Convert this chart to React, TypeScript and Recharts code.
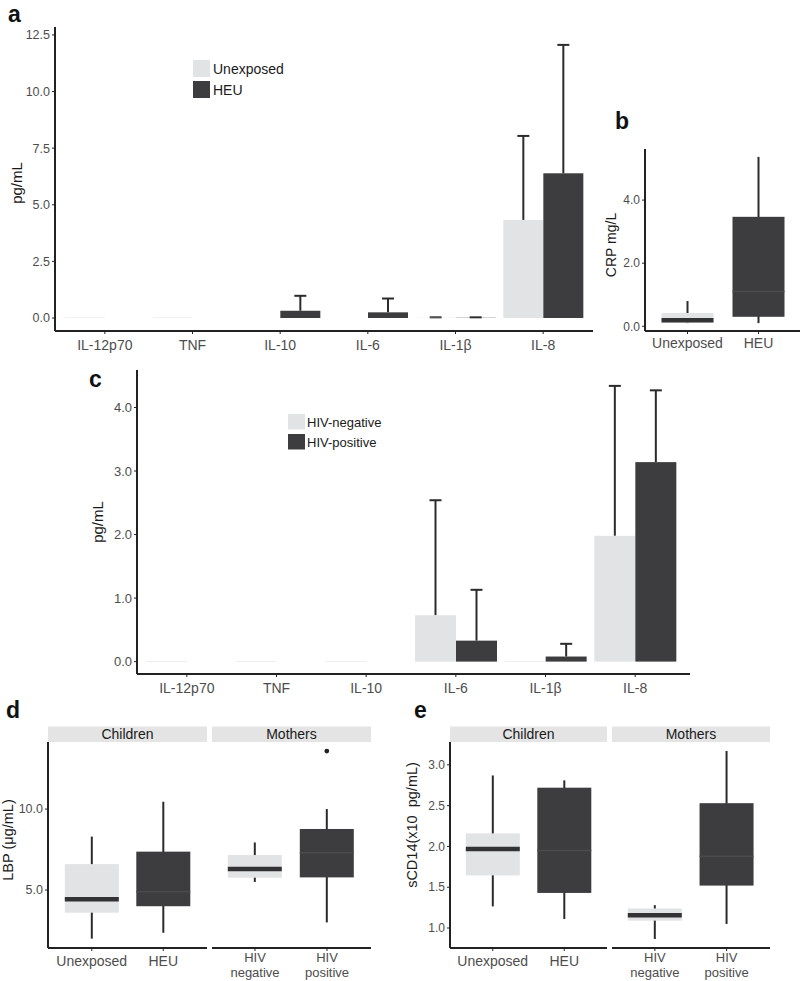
import React from 'react';
import { BarChart, Bar, XAxis, YAxis } from 'recharts';

const FONT = '"Liberation Sans", Arial, Helvetica, sans-serif';
const LIGHT = '#e2e3e5';
const DARK = '#3d3d3f';
const INK = '#222222';
const TICK = '#4d4d4d';

// panel a: cytokines in children
const cytokines = ['IL-12p70', 'TNF', 'IL-10', 'IL-6', 'IL-1β', 'IL-8'];
const unexposedMean = [0.02, 0.02, 0, 0, 0.01, 4.33];
const unexposedUpper = [null, null, null, null, 0.03, 8.04];
const heuMean = [0, 0, 0.32, 0.25, 0.01, 6.39];
const heuUpper = [null, null, 0.98, 0.86, 0.03, 12.06];
const ticksA = [0, 2.5, 5, 7.5, 10, 12.5];

// panel c: cytokines in mothers
const hivNegMean = [0.01, 0.01, 0.01, 0.73, 0.01, 1.98];
const hivNegUpper = [null, null, null, 2.54, null, 4.34];
const hivPosMean = [0, 0, 0, 0.33, 0.08, 3.14];
const hivPosUpper = [null, null, null, 1.13, 0.28, 4.27];
const ticksC = [0, 1, 2, 3, 4];

// panel b: CRP
const crpGroups = ['Unexposed', 'HEU'];
const crpMin = [0.1, 0.1];
const crpQ1 = [0.11, 0.3];
const crpMedian = [0.19, 1.1];
const crpQ3 = [0.42, 3.47];
const crpMax = [0.8, 5.37];
const ticksB = [0, 2, 4];

// panels d/e: facets
const childGroups = ['Unexposed', 'HEU'];
const motherGroups = ['HIV\nnegative', 'HIV\npositive'];
const tones = ['light', 'dark'];

const lbpChildMin = [2.0, 2.36];
const lbpChildQ1 = [3.6, 4.0];
const lbpChildMedian = [4.43, 4.9];
const lbpChildQ3 = [6.6, 7.37];
const lbpChildMax = [8.3, 10.45];
const lbpMotherMin = [5.5, 3.0];
const lbpMotherQ1 = [5.76, 5.78];
const lbpMotherMedian = [6.3, 7.3];
const lbpMotherQ3 = [7.16, 8.77];
const lbpMotherMax = [7.94, 10.0];
const lbpMotherOutliers = [[], [13.58]];
const ticksD = [5, 10];

const cd14ChildMin = [1.265, 1.11];
const cd14ChildQ1 = [1.645, 1.43];
const cd14ChildMedian = [1.97, 1.95];
const cd14ChildQ3 = [2.16, 2.72];
const cd14ChildMax = [2.87, 2.81];
const cd14MotherMin = [0.865, 1.05];
const cd14MotherQ1 = [1.09, 1.52];
const cd14MotherMedian = [1.155, 1.88];
const cd14MotherQ3 = [1.24, 2.53];
const cd14MotherMax = [1.28, 3.17];
const ticksE = [1, 1.5, 2, 2.5, 3];

const barRows = (m1: number[], u1: (number | null)[], m2: number[], u2: (number | null)[]) =>
  cytokines.map((name, i) => ({ name, m1: m1[i], u1: u1[i], m2: m2[i], u2: u2[i] }));

const boxRows = (
  names: string[],
  min: number[],
  q1: number[],
  med: number[],
  q3: number[],
  max: number[],
  out: number[][] = []
) =>
  names.map((name, i) => ({
    name,
    min: min[i],
    q1: q1[i],
    median: med[i],
    q3: q3[i],
    max: max[i],
    outliers: out[i] || [],
    tone: tones[i],
  }));

// bar + upper error whisker, scale taken from the bar itself
const errShape = (meanKey: string, upKey: string) => (props: any) => {
  const { x, y, width, height, fill, payload } = props;
  const v = payload[meanKey];
  const up = payload[upKey];
  if (!(v > 0)) return <g />;
  const base = y + height;
  const px = height / v;
  const cx = x + width / 2;
  const ty = up != null ? base - up * px : null;
  return (
    <g>
      {ty != null && (
        <g stroke="#2b2b2b" strokeWidth={2}>
          <line x1={cx} x2={cx} y1={ty} y2={y} />
          <line x1={cx - 6} x2={cx + 6} y1={ty} y2={ty} />
        </g>
      )}
      <rect x={x} y={y} width={width} height={height} fill={fill} />
    </g>
  );
};

const boxShape = (props: any) => {
  const { x, y, width, height, payload } = props;
  const px = height / (payload.max - payload.min);
  const yOf = (v: number) => y + (payload.max - v) * px;
  const cx = x + width / 2;
  const light = payload.tone === 'light';
  return (
    <g>
      <line x1={cx} x2={cx} y1={yOf(payload.max)} y2={yOf(payload.min)} stroke="#2b2b2b" strokeWidth={2} />
      <rect
        x={x}
        y={yOf(payload.q3)}
        width={width}
        height={yOf(payload.q1) - yOf(payload.q3)}
        fill={light ? LIGHT : DARK}
      />
      <line
        x1={x}
        x2={x + width}
        y1={yOf(payload.median)}
        y2={yOf(payload.median)}
        stroke={light ? '#333335' : '#4b4b4d'}
        strokeWidth={light ? 4.5 : 1.5}
      />
      {payload.outliers.map((o: number, i: number) => (
        <circle key={i} cx={cx} cy={yOf(o)} r={2.4} fill="#222" />
      ))}
    </g>
  );
};

const XTick = (p: any) => {
  const lines = String(p.payload.value).split('\n');
  return (
    <text x={p.x} y={p.y + p.labelDy} textAnchor="middle" fill={TICK} fontSize={p.labelSize} fontFamily={FONT}>
      {lines.map((l, i) => (
        <tspan key={i} x={p.x} dy={i === 0 ? 0 : 14.5}>
          {l}
        </tspan>
      ))}
    </text>
  );
};

const fmt1 = (v: number) => v.toFixed(1);

function CytokinePanel(props: any) {
  const { left, top, width, height, marginTop, yWidth, xHeight, domain, ticks, rows, pad, tickSize, labelDy } = props;
  return (
    <div style={{ position: 'absolute', left, top }}>
      <BarChart
        width={width}
        height={height}
        data={rows}
        margin={{ top: marginTop, right: 0, bottom: 0, left: 0 }}
        barGap={0}
        barCategoryGap={4}
      >
        <XAxis
          dataKey="name"
          height={xHeight}
          padding={pad}
          interval={0}
          tickSize={3}
          tickLine={{ stroke: INK }}
          axisLine={{ stroke: INK, strokeWidth: 2 }}
          tick={(p: any) => <XTick {...p} labelDy={labelDy} labelSize={14} />}
        />
        <YAxis
          width={yWidth}
          domain={domain}
          ticks={ticks}
          tickFormatter={fmt1}
          tickSize={3}
          tickLine={{ stroke: INK }}
          axisLine={{ stroke: INK, strokeWidth: 2 }}
          tick={{ fill: TICK, fontSize: tickSize, fontFamily: FONT }}
        />
        <Bar dataKey="m1" fill={LIGHT} shape={errShape('m1', 'u1')} isAnimationActive={false} />
        <Bar dataKey="m2" fill={DARK} shape={errShape('m2', 'u2')} isAnimationActive={false} />
      </BarChart>
    </div>
  );
}

function BoxFacet(props: any) {
  const { left, top, width, height, marginTop, yWidth, showY, xHeight, domain, ticks, rows, pad, gap, tickSize, labelDy, labelSize } = props;
  return (
    <div style={{ position: 'absolute', left, top }}>
      <BarChart
        width={width}
        height={height}
        data={rows}
        margin={{ top: marginTop, right: 0, bottom: 0, left: 0 }}
        barCategoryGap={gap}
      >
        <XAxis
          dataKey="name"
          height={xHeight}
          padding={pad}
          interval={0}
          tickSize={3}
          tickLine={{ stroke: INK }}
          axisLine={{ stroke: INK, strokeWidth: 2 }}
          tick={(p: any) => <XTick {...p} labelDy={labelDy} labelSize={labelSize || 14} />}
        />
        <YAxis
          hide={!showY}
          width={yWidth}
          domain={domain}
          ticks={ticks}
          tickFormatter={fmt1}
          tickSize={3}
          tickLine={{ stroke: INK }}
          axisLine={{ stroke: INK, strokeWidth: 2 }}
          tick={{ fill: TICK, fontSize: tickSize, fontFamily: FONT }}
        />
        <Bar dataKey={(d: any) => [d.min, d.max]} shape={boxShape} isAnimationActive={false} />
      </BarChart>
    </div>
  );
}

const Strip = ({ x, y, w, label }: any) => (
  <g>
    <rect x={x} y={y} width={w} height={15.5} fill="#e4e4e4" />
    <text x={x + w / 2} y={y + 12.5} textAnchor="middle" fontSize={14} fill="#1a1a1a">
      {label}
    </text>
  </g>
);

const YLabel = ({ cx, cy, size, text }: any) => (
  <text transform={`translate(${cx},${cy}) rotate(-90)`} textAnchor="middle" dominantBaseline="central" fontSize={size} fill="#1a1a1a">
    {text}
  </text>
);

export default function App() {
  const rowsA = barRows(unexposedMean, unexposedUpper, heuMean, heuUpper);
  const rowsC = barRows(hivNegMean, hivNegUpper, hivPosMean, hivPosUpper);
  const rowsB = boxRows(crpGroups, crpMin, crpQ1, crpMedian, crpQ3, crpMax);
  const rowsDc = boxRows(childGroups, lbpChildMin, lbpChildQ1, lbpChildMedian, lbpChildQ3, lbpChildMax);
  const rowsDm = boxRows(motherGroups, lbpMotherMin, lbpMotherQ1, lbpMotherMedian, lbpMotherQ3, lbpMotherMax, lbpMotherOutliers);
  const rowsEc = boxRows(childGroups, cd14ChildMin, cd14ChildQ1, cd14ChildMedian, cd14ChildQ3, cd14ChildMax);
  const rowsEm = boxRows(motherGroups, cd14MotherMin, cd14MotherQ1, cd14MotherMedian, cd14MotherQ3, cd14MotherMax);

  return (
    <div style={{ position: 'absolute', left: 0, top: 0, width: 800, height: 981, background: '#fff', fontFamily: FONT, overflow: 'hidden' }}>
      {/* a */}
      <CytokinePanel
        left={0} top={0} width={593} height={360} marginTop={27} yWidth={55} xHeight={29}
        domain={[-0.574, 12.85]} ticks={ticksA} rows={rowsA} pad={{ left: 6, right: 6 }} tickSize={12.5} labelDy={14}
      />
      {/* b */}
      <BoxFacet
        left={590} top={100} width={211} height={251} marginTop={49} yWidth={55} showY xHeight={20}
        domain={[-0.15, 5.62]} ticks={ticksB} rows={rowsB} pad={{ left: 7, right: 7 }} gap={9.5} tickSize={12} labelDy={11.5}
      />
      {/* c */}
      <CytokinePanel
        left={80} top={340} width={610} height={365} marginTop={30} yWidth={57} xHeight={31}
        domain={[-0.195, 4.59]} ticks={ticksC} rows={rowsC} pad={{ left: 5, right: 10 }} tickSize={13} labelDy={13.5}
      />
      {/* d */}
      <BoxFacet
        left={0} top={732} width={207} height={249} marginTop={10} yWidth={48} showY xHeight={33}
        domain={[1.42, 14.14]} ticks={ticksD} rows={rowsDc} pad={{ left: 8, right: 8 }} gap={8.8} tickSize={12.5} labelDy={12.5}
      />
      <BoxFacet
        left={212} top={732} width={159} height={249} marginTop={10} yWidth={0} showY={false} xHeight={33}
        domain={[1.42, 14.14]} ticks={ticksD} rows={rowsDm} pad={{ left: 7, right: 8 }} gap={8.8} tickSize={12.5} labelDy={9} labelSize={13}
      />
      {/* e */}
      <BoxFacet
        left={390} top={732} width={217} height={249} marginTop={10} yWidth={60} showY xHeight={33}
        domain={[0.755, 3.28]} ticks={ticksE} rows={rowsEc} pad={{ left: 7, right: 7 }} gap={8.8} tickSize={12} labelDy={12.5}
      />
      <BoxFacet
        left={612} top={732} width={158} height={249} marginTop={10} yWidth={0} showY={false} xHeight={33}
        domain={[0.755, 3.28]} ticks={ticksE} rows={rowsEm} pad={{ left: 7, right: 7.5 }} gap={8.8} tickSize={12} labelDy={9} labelSize={13}
      />

      <svg width={800} height={981} style={{ position: 'absolute', left: 0, top: 0, pointerEvents: 'none' }} fontFamily={FONT}>
        <g fontSize={23} fontWeight="bold" fill="#111">
          <text x={8} y={22}>a</text>
          <text x={615} y={129}>b</text>
          <text x={89} y={387}>c</text>
          <text x={6} y={718}>d</text>
          <text x={414} y={718}>e</text>
        </g>

        <YLabel cx={16} cy={183} size={15} text="pg/mL" />
        <YLabel cx={611} cy={245} size={14} text="CRP mg/L" />
        <YLabel cx={97} cy={522} size={15} text="pg/mL" />
        <YLabel cx={8} cy={840} size={14.5} text="LBP (μg/mL)" />
        <YLabel cx={412} cy={825} size={14.5} text={'sCD14(x10\u00a0 pg/mL)'} />

        {/* legend a */}
        <rect x={193} y={60} width={17} height={17} fill={LIGHT} />
        <rect x={193} y={81} width={17} height={17} fill={DARK} />
        <text x={213} y={74} fontSize={14} fill="#1a1a1a">Unexposed</text>
        <text x={213} y={95} fontSize={14} fill="#1a1a1a">HEU</text>

        {/* legend c */}
        <rect x={288} y={414} width={17} height={15.5} fill={LIGHT} />
        <rect x={288} y={434} width={17} height={15.5} fill={DARK} />
        <text x={307} y={426.5} fontSize={13} fill="#1a1a1a">HIV-negative</text>
        <text x={307} y={446.5} fontSize={13} fill="#1a1a1a">HIV-positive</text>

        {/* facet strips */}
        <Strip x={48} y={726.5} w={159} label="Children" />
        <Strip x={212} y={726.5} w={159} label="Mothers" />
        <Strip x={450} y={726.5} w={157} label="Children" />
        <Strip x={612} y={726.5} w={158} label="Mothers" />
      </svg>
    </div>
  );
}
